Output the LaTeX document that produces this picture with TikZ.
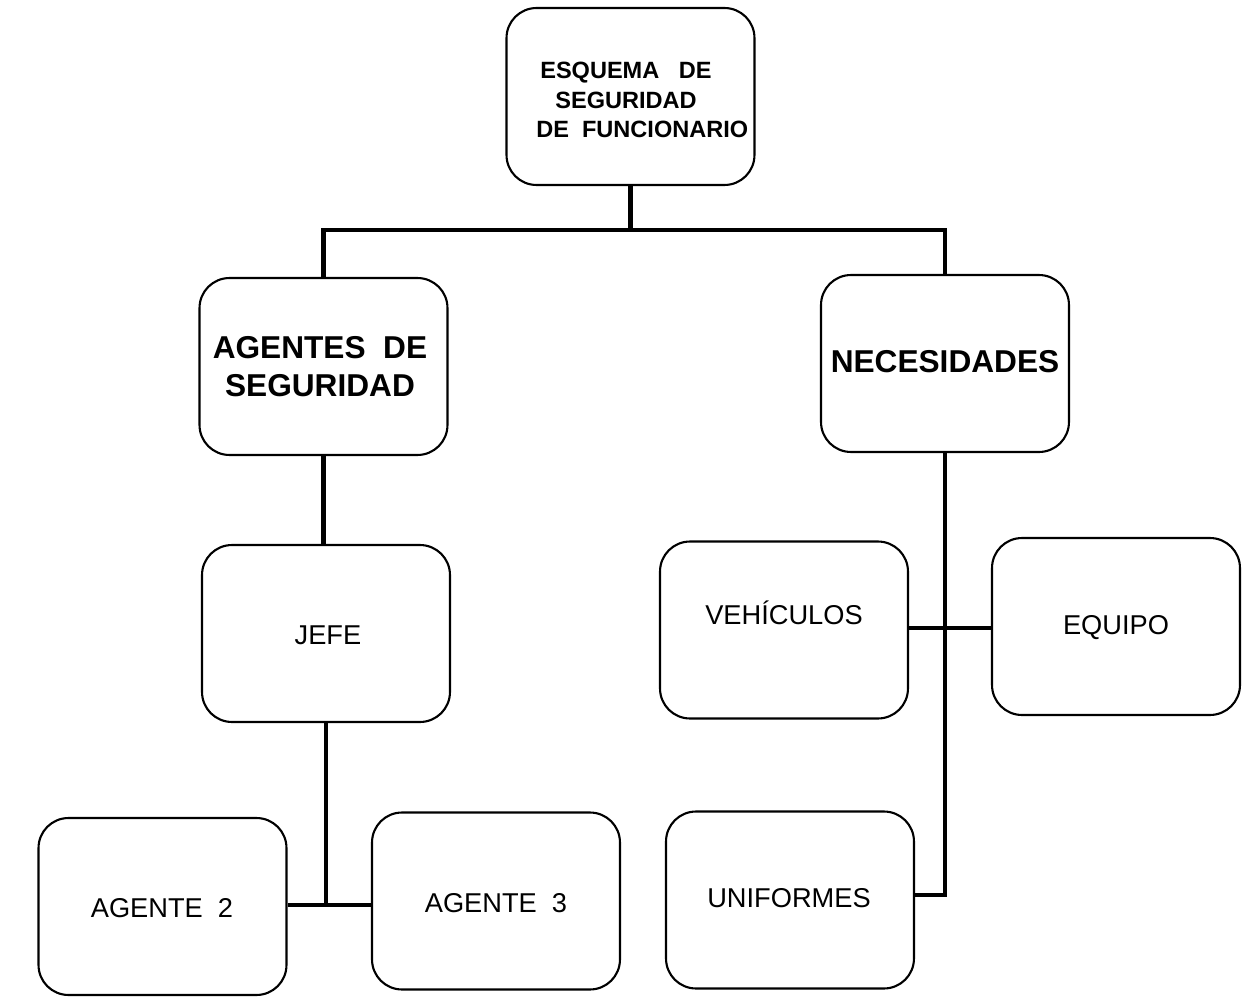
\documentclass[tikz,border=0pt]{standalone}
\usepackage{fontspec}
\setmainfont{Liberation Sans}
\begin{document}
\begin{tikzpicture}[x=0.02cm,y=-0.02cm,
  box/.style={draw,line width=1.2pt,rounded corners=0.6cm,minimum width=4.96cm,minimum height=3.54cm,inner sep=0pt},
  conn/.style={line width=2.4pt},
  small/.style={font=\fontsize{15.5}{19}\selectfont,align=center},
  big/.style={font=\bfseries\fontsize{18}{21.5}\selectfont,align=center},
  head/.style={font=\bfseries\fontsize{13.4}{17}\selectfont,align=center}]
\useasboundingbox (0,0) rectangle (1249,997);
\node[box] (top) at (630.5,96.5) {};
\node[box] (agentes) at (323.5,366.5) {};
\node[box] (nec) at (945,363.5) {};
\node[box] (jefe) at (326,633.5) {};
\node[box] (ag2) at (162.5,906.5) {};
\node[box] (ag3) at (496,901) {};
\node[box] (veh) at (784,630) {};
\node[box] (equipo) at (1116,626.5) {};
\node[box] (unif) at (790,900) {};
\node[head] (ttop) at (626,100) {ESQUEMA\ \ \ DE\\SEGURIDAD\\\hspace*{18.5pt}DE\ \ FUNCIONARIO};
\node[big] (tag) at (320,367) {AGENTES\ \ DE\\SEGURIDAD};
\node[big] (tnec) at (945,362) {NECESIDADES};
\node[small] (tjefe) at (328,635) {JEFE};
\node[small] (tag2) at (162,908) {AGENTE\ \ 2};
\node[small] (tag3) at (496,903) {AGENTE\ \ 3};
\node[small] (tveh) at (784,613) {VEHÍCULOS};
\node[small] (teq) at (1116,628) {EQUIPO};
\node[small] (tunif) at (789,898) {UNIFORMES};
\coordinate (bar) at (0,230);
\draw[conn] (top.south) -- (top.south |- bar);
\draw[conn] (agentes.north) |- (nec.north |- bar) -- (nec.north);
\draw[conn] (agentes.south) -- (agentes.south |- jefe.north);
\draw[conn] (jefe.south) -- (jefe.south |- 0,905);
\draw[conn] (ag2.east |- 0,905) -- (ag3.west |- 0,905);
\draw[conn] (nec.south) -- (nec.south |- 0,895) -- (unif.east |- 0,895);
\draw[conn] (veh.east |- 0,628) -- (equipo.west |- 0,628);
\end{tikzpicture}
\end{document}
